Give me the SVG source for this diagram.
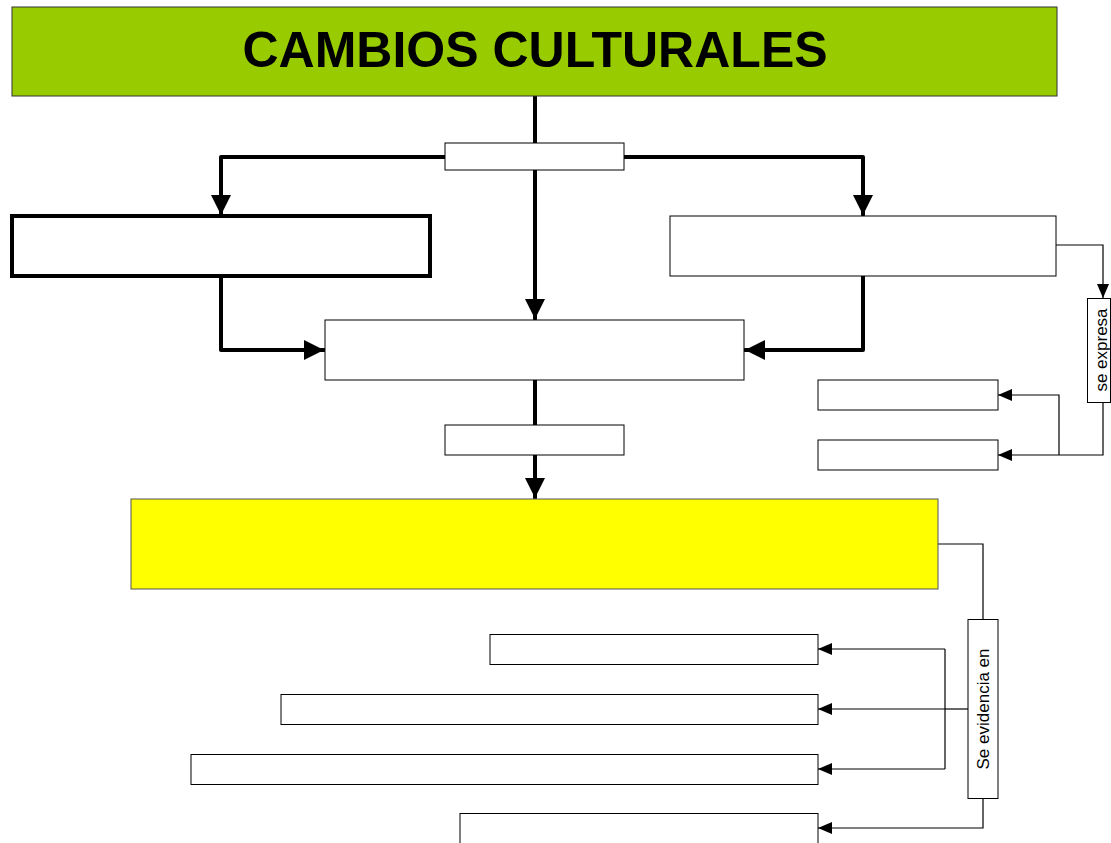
<svg xmlns="http://www.w3.org/2000/svg" width="1111" height="843" viewBox="0 0 1111 843">
<style>
.box{fill:#fff;stroke:#000;stroke-width:1}
.thickbox{fill:#fff;stroke:#000;stroke-width:4}
.thick{fill:none;stroke:#000;stroke-width:4;stroke-linecap:round;stroke-linejoin:round}
.thin{fill:none;stroke:#000;stroke-width:1.2}
.lbl{font-family:"Liberation Sans",Arial,sans-serif;font-size:17px;fill:#000}
</style>
<defs>
<marker id="ah" viewBox="0 0 20 20" refX="20" refY="10" markerWidth="20" markerHeight="20" markerUnits="userSpaceOnUse" orient="auto">
<path d="M0,0 L20,10 L0,20 Z" fill="#000"/>
</marker>
<marker id="as" viewBox="0 0 14 12" refX="14" refY="6" markerWidth="14" markerHeight="12" markerUnits="userSpaceOnUse" orient="auto">
<path d="M0,0 L14,6 L0,12 Z" fill="#000"/>
</marker>
</defs>
<rect width="1111" height="843" fill="#fff"/>
<g id="connectors">
<path class="thick" d="M535,96 V143"/>
<path class="thick" d="M445,157 H221 V215" marker-end="url(#ah)"/>
<path class="thick" d="M624,157 H863 V215" marker-end="url(#ah)"/>
<path class="thick" d="M535,170 V319" marker-end="url(#ah)"/>
<path class="thick" d="M221,278 V350 H324" marker-end="url(#ah)"/>
<path class="thick" d="M863,276 V350 H745" marker-end="url(#ah)"/>
<path class="thick" d="M535,380 V425"/>
<path class="thick" d="M535,455 V498" marker-end="url(#ah)"/>
<path class="thin" d="M1056,245 H1103 V298" marker-end="url(#as)"/>
<path class="thin" d="M1103,402 V455 H998" marker-end="url(#as)"/>
<path class="thin" d="M1059,455 V395 H998" marker-end="url(#as)"/>
<path class="thin" d="M938,544 H983 V619"/>
<path class="thin" d="M968,709 H945"/>
<path class="thin" d="M945,649 V769"/>
<path class="thin" d="M945,649 H818" marker-end="url(#as)"/>
<path class="thin" d="M945,709 H818" marker-end="url(#as)"/>
<path class="thin" d="M945,769 H818" marker-end="url(#as)"/>
<path class="thin" d="M983,798 V828 H818" marker-end="url(#as)"/>
</g>
<g id="title">
<rect x="12" y="7" width="1045" height="89" fill="#99cc00" stroke="#333" stroke-width="1"/>
<text x="535" y="67" text-anchor="middle" font-family="'Liberation Sans',Arial,sans-serif" font-weight="bold" font-size="50" fill="#000">CAMBIOS CULTURALES</text>
</g>
<g id="link1"><rect class="box" x="445" y="143" width="179" height="27"/></g>
<g id="left"><rect class="thickbox" x="12" y="216" width="418" height="60"/></g>
<g id="right"><rect class="box" x="670" y="216" width="386" height="60"/></g>
<g id="middle"><rect class="box" x="325" y="320" width="419" height="60"/></g>
<g id="link2"><rect class="box" x="445" y="425" width="179" height="30"/></g>
<g id="expresa">
<rect class="box" x="1087.5" y="298.5" width="23" height="104"/>
<text class="lbl" transform="translate(1107,350) rotate(-90)" text-anchor="middle">se expresa</text>
</g>
<g id="exp1"><rect class="box" x="818" y="380" width="180" height="30"/></g>
<g id="exp2"><rect class="box" x="818" y="440" width="180" height="30"/></g>
<g id="yellow"><rect x="131" y="499" width="807" height="90" fill="#ffff00" stroke="#555" stroke-width="1"/></g>
<g id="evidencia">
<rect class="box" x="968" y="619.5" width="30" height="179"/>
<text class="lbl" transform="translate(989,709) rotate(-90)" text-anchor="middle">Se evidencia en</text>
</g>
<g id="ev1"><rect class="box" x="490" y="634.5" width="328" height="30"/></g>
<g id="ev2"><rect class="box" x="281" y="694.5" width="537" height="30"/></g>
<g id="ev3"><rect class="box" x="191" y="754.5" width="627" height="30"/></g>
<g id="ev4"><rect class="box" x="460" y="813.5" width="358" height="40"/></g>
</svg>
